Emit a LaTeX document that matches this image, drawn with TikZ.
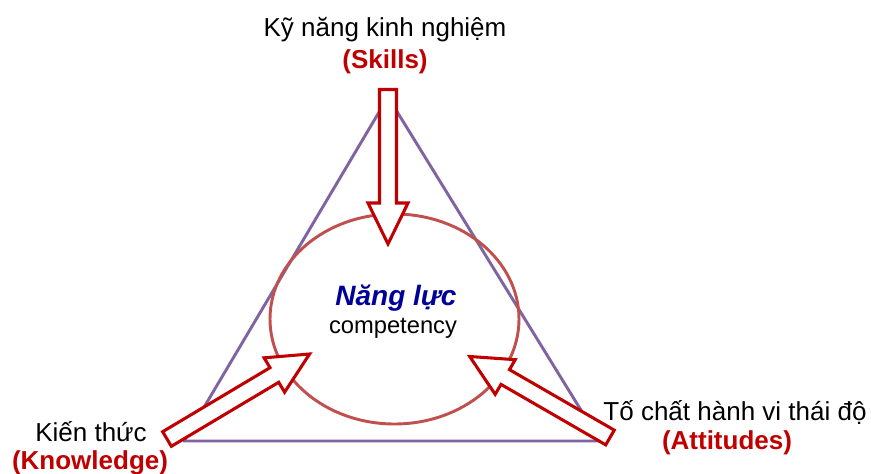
\documentclass[tikz,border=0pt]{standalone}
\usepackage{fontspec}
\setmainfont{Liberation Sans}
\usetikzlibrary{shapes.geometric}
\definecolor{triline}{HTML}{8064A2}
\definecolor{ellline}{HTML}{C0504D}
\definecolor{arrred}{HTML}{C00000}
\definecolor{navy}{HTML}{000099}
\newcommand{\blkarrow}[1]{%
  \draw[blockarr] (0,-8.5) -- ({#1-41},-8.5) -- ({#1-41},-20) -- (#1,0) -- ({#1-41},20) -- ({#1-41},8.5) -- (0,8.5) -- cycle;}
\tikzset{
  triedge/.style={draw=triline, line width=2.2pt},
  blockarr/.style={draw=arrred, fill=white, line width=2.3pt, line join=miter},
  lbl/.style={font=\fontsize{19.5}{23}\selectfont, inner sep=0pt},
  lblred/.style={font=\fontsize{19.5}{23}\selectfont\bfseries, text=arrred, inner sep=0pt},
}
\begin{document}
\begin{tikzpicture}[x=0.75pt, y=-0.75pt]
\useasboundingbox (0,0) rectangle (871,474);
% triangle
\coordinate (apex) at (388,97);
\coordinate (bl) at (184,441);
\coordinate (br) at (600,441);
\draw[triedge, line join=round] (apex) -- (bl) -- (br) -- cycle;
% ellipse
\node[draw=ellline, line width=2.2pt, ellipse, minimum width=186.75pt, minimum height=157.5pt, inner sep=0pt] (core) at (394.5,319) {};
% arrows
\begin{scope}[shift={(388,89.5)}, rotate=-90]
  \blkarrow{154.5}
\end{scope}
\begin{scope}[shift={(167,439)}, rotate=30.8]
  \blkarrow{166}
\end{scope}
\begin{scope}[shift={(610,437.5)}, rotate=150]
  \blkarrow{162}
\end{scope}
% texts
\node[lbl] (skills) at (385,30) {Kỹ năng kinh nghiệm};
\node[lblred] (skillsen) at (385,62) {(Skills)};
\node[font=\fontsize{21}{25}\selectfont\bfseries\itshape, text=navy, inner sep=0pt] (nl) at (396,298) {Năng lực};
\node[font=\fontsize{17.8}{21}\selectfont, inner sep=0pt] (comp) at (393,328) {competency};
\node[lbl] (know) at (91,432) {Kiến thức};
\node[lblred] (knowen) at (90,463) {(Knowledge)};
\node[lbl] (att) at (735,412) {Tố chất hành vi thái độ};
\node[lblred] (atten) at (727,443) {(Attitudes)};
\end{tikzpicture}
\end{document}
